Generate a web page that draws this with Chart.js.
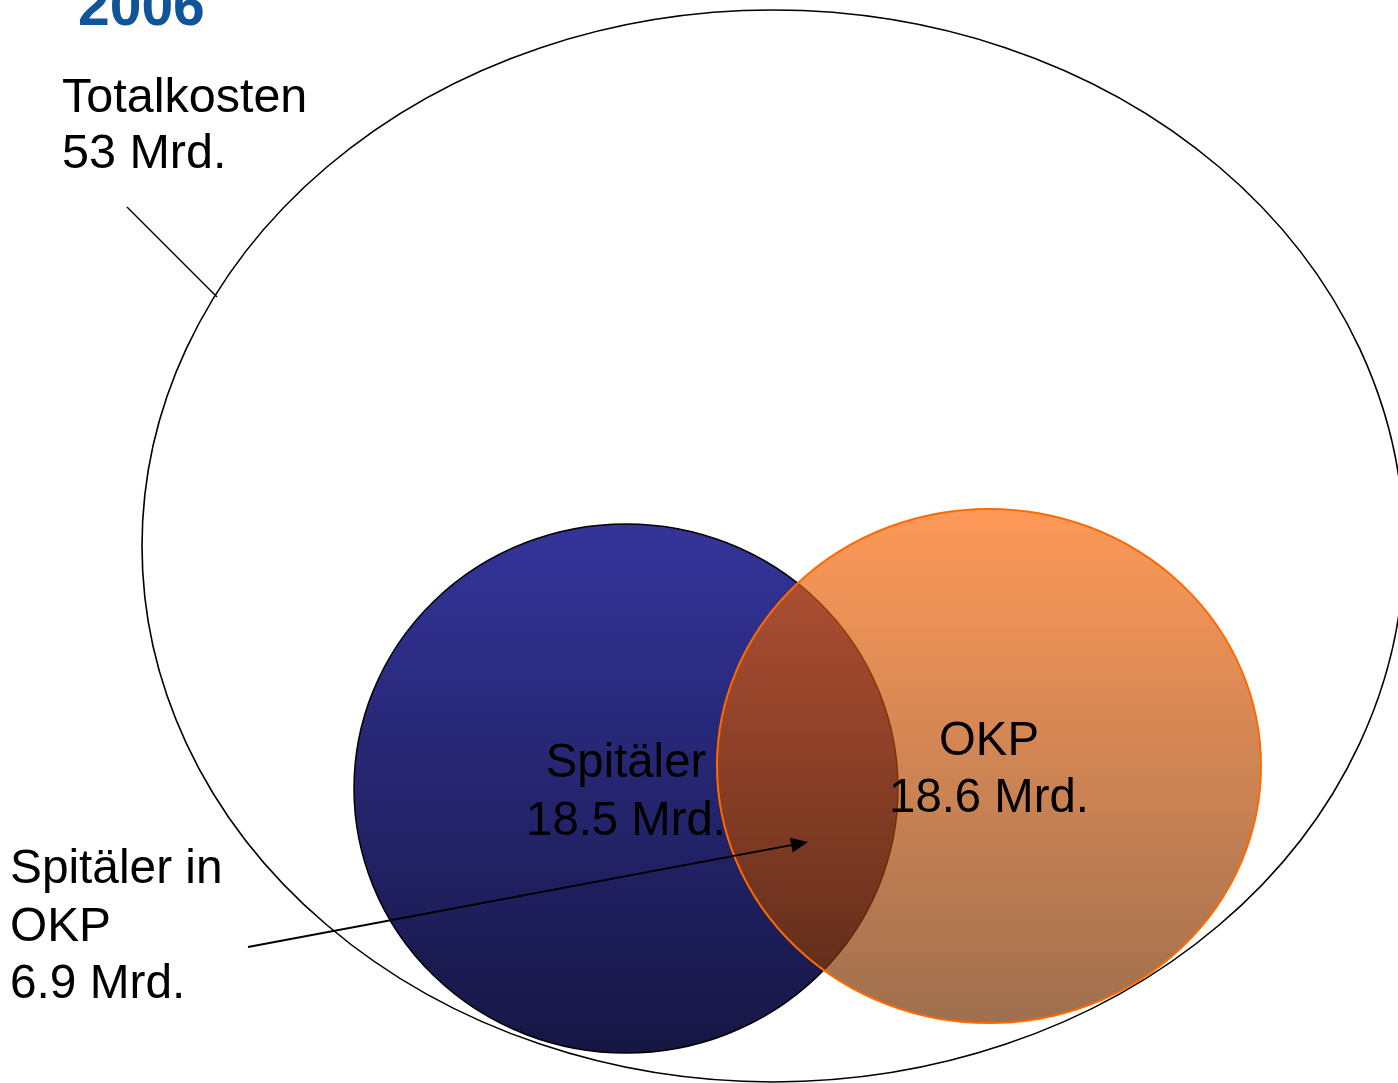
<!DOCTYPE html>
<html>
<head>
<meta charset="utf-8">
<title>Kosten 2006</title>
<script src="https://cdn.jsdelivr.net/npm/chart.js@4"></script>
<style>
  html, body { margin: 0; padding: 0; background: #ffffff; }
  #wrap { width: 1398px; height: 1083px; }
</style>
</head>
<body>
<div id="wrap"><canvas id="venn" width="1398" height="1083"></canvas></div>
<script>
// Cost sets (billions CHF) and their shared part
const yearLabel = '2006';
const categories = ['Totalkosten', 'Spitäler', 'OKP'];
const costs = [53, 18.5, 18.6];
const overlapCategory = ['Spitäler in', 'OKP'];
const overlapCost = 6.9;
const unit = 'Mrd.';

// Geometry of the diagram, in scale units
const layout = {
  sets: [
    { cx: 773, cy: 546, rx: 631, ry: 536 },
    { cx: 626, cy: 788.5, rx: 272, ry: 264.5 },
    { cx: 989, cy: 766, rx: 272, ry: 257 }
  ],
  labels: [
    { x: 62, y: 112, align: 'left', lh: 56, size: 48.5 },
    { x: 626, y: 777, align: 'center', lh: 58, size: 47.3 },
    { x: 989, y: 755, align: 'center', lh: 57, size: 47.3 }
  ],
  overlapLabel: { x: 10, y: 883, align: 'left', lh: 57.5, size: 47.8 },
  title: { x: 78, y: 25, size: 57 },
  totalLeader: { from: [127, 207], to: [217, 297] },
  overlapArrow: { from: [248, 947], to: [808, 842] }
};

const FONT = '"Liberation Sans", Arial, Helvetica, sans-serif';

function fmt(v) { return String(v) + ' ' + unit; }

const vennPlugin = {
  id: 'vennDiagram',
  afterDatasetsDraw(chart) {
    const ctx = chart.ctx;
    const xs = chart.scales.x, ys = chart.scales.y;
    const px = v => xs.getPixelForValue(v);
    const py = v => ys.getPixelForValue(v);
    const rxPx = r => Math.abs(px(r) - px(0));
    const ryPx = r => Math.abs(py(r) - py(0));

    const ell = (s) => {
      ctx.beginPath();
      ctx.ellipse(px(s.cx), py(s.cy), rxPx(s.rx), ryPx(s.ry), 0, 0, Math.PI * 2);
    };

    ctx.save();

    // Total costs: outline only
    const t = layout.sets[0];
    ell(t);
    ctx.lineWidth = 1.6;
    ctx.strokeStyle = '#000000';
    ctx.stroke();

    // Hospitals: blue gradient
    const b = layout.sets[1];
    let g = ctx.createLinearGradient(0, py(b.cy - b.ry), 0, py(b.cy + b.ry));
    g.addColorStop(0, '#34349b');
    g.addColorStop(1, '#161644');
    ell(b);
    ctx.fillStyle = g;
    ctx.fill();
    ctx.lineWidth = 1.5;
    ctx.strokeStyle = '#000000';
    ctx.stroke();

    // OKP: translucent orange gradient
    const o = layout.sets[2];
    g = ctx.createLinearGradient(0, py(o.cy - o.ry), 0, py(o.cy + o.ry));
    g.addColorStop(0, 'rgba(252,100,2,0.66)');
    g.addColorStop(1, 'rgba(118,50,4,0.70)');
    ell(o);
    ctx.fillStyle = g;
    ctx.fill();
    ctx.lineWidth = 2;
    ctx.strokeStyle = '#ff6a00';
    ctx.stroke();

    // Leader line to the outer ellipse
    const L = layout.totalLeader;
    ctx.beginPath();
    ctx.moveTo(px(L.from[0]), py(L.from[1]));
    ctx.lineTo(px(L.to[0]), py(L.to[1]));
    ctx.lineWidth = 1.5;
    ctx.strokeStyle = '#000000';
    ctx.stroke();

    // Arrow into the intersection
    const A = layout.overlapArrow;
    const x0 = px(A.from[0]), y0 = py(A.from[1]);
    const x1 = px(A.to[0]), y1 = py(A.to[1]);
    const ang = Math.atan2(y1 - y0, x1 - x0);
    const headLen = 17, headHalf = 7.5;
    const bx = x1 - headLen * Math.cos(ang), by = y1 - headLen * Math.sin(ang);
    ctx.beginPath();
    ctx.moveTo(x0, y0);
    ctx.lineTo(bx, by);
    ctx.lineWidth = 2;
    ctx.stroke();
    ctx.beginPath();
    ctx.moveTo(x1, y1);
    ctx.lineTo(bx + headHalf * Math.sin(ang), by - headHalf * Math.cos(ang));
    ctx.lineTo(bx - headHalf * Math.sin(ang), by + headHalf * Math.cos(ang));
    ctx.closePath();
    ctx.fillStyle = '#000000';
    ctx.fill();

    // Texts
    const block = (lines, pos) => {
      ctx.font = pos.size + 'px ' + FONT;
      ctx.textAlign = pos.align;
      ctx.textBaseline = 'alphabetic';
      ctx.fillStyle = '#000000';
      lines.forEach((s, i) => ctx.fillText(s, px(pos.x), py(pos.y + i * pos.lh)));
    };
    categories.forEach((c, i) => block([c, fmt(costs[i])], layout.labels[i]));
    block([...overlapCategory, fmt(overlapCost)], layout.overlapLabel);

    ctx.font = 'bold ' + layout.title.size + 'px ' + FONT;
    ctx.textAlign = 'left';
    ctx.fillStyle = '#10549a';
    ctx.fillText(yearLabel, px(layout.title.x), py(layout.title.y));

    ctx.restore();
  }
};

new Chart(document.getElementById('venn'), {
  type: 'scatter',
  data: {
    datasets: [{
      label: 'Mengen',
      data: layout.sets.map(s => ({ x: s.cx, y: s.cy })),
      pointRadius: 0,
      pointHoverRadius: 0
    }]
  },
  options: {
    responsive: false,
    animation: false,
    devicePixelRatio: 1,
    layout: { padding: 0 },
    plugins: { legend: { display: false }, tooltip: { enabled: false }, title: { display: false } },
    scales: {
      x: { type: 'linear', min: 0, max: 1398, display: false },
      y: { type: 'linear', min: 0, max: 1083, reverse: true, display: false }
    }
  },
  plugins: [vennPlugin]
});
</script>
</body>
</html>
